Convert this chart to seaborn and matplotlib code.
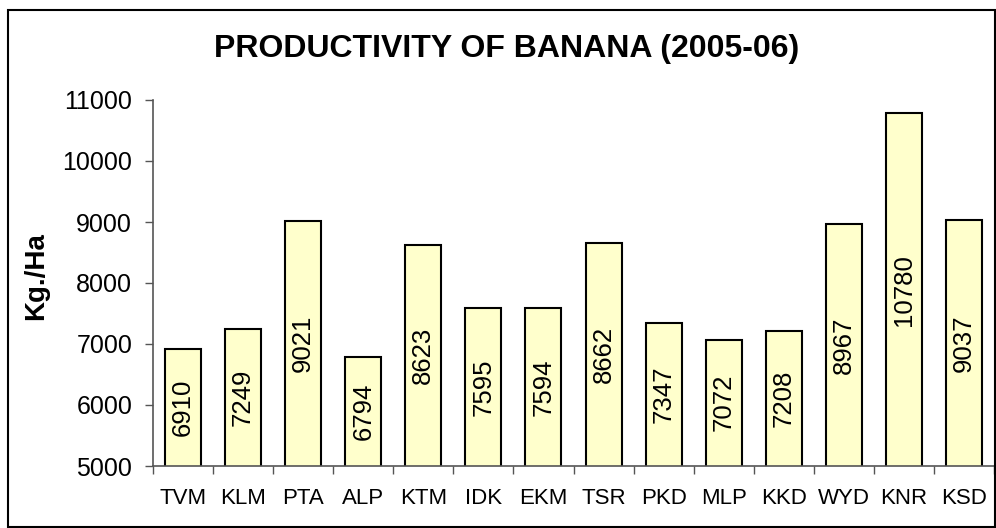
import matplotlib
matplotlib.use("Agg")
import matplotlib.pyplot as plt
import seaborn as sns
import pandas as pd
import numpy as np
from matplotlib.patches import Rectangle

districts = ["TVM", "KLM", "PTA", "ALP", "KTM", "IDK", "EKM", "TSR", "PKD", "MLP", "KKD", "WYD", "KNR", "KSD"]
productivity = [6910, 7249, 9021, 6794, 8623, 7595, 7594, 8662, 7347, 7072, 7208, 8967, 10780, 9037]
y_ticks = [5000, 6000, 7000, 8000, 9000, 10000, 11000]

sns.set_theme(style="white")
plt.rcParams['font.family'] = ['Liberation Sans', 'DejaVu Sans']
plt.rcParams['text.color'] = 'black'
plt.rcParams['axes.labelcolor'] = 'black'
plt.rcParams['xtick.color'] = 'black'
plt.rcParams['ytick.color'] = 'black'

df = pd.DataFrame({"district": districts, "value": productivity})

fig = plt.figure(figsize=(9.96, 5.28), dpi=100)
ax = fig.add_axes([153/996, 1-466/528, (994-153)/996, (466-100)/528])

sns.barplot(data=df, x="district", y="value", ax=ax, color="#FFFFCC",
            edgecolor="black", linewidth=1.5, width=0.6, saturation=1)

ax.set_ylim(5000, 11000)
ax.set_xlim(-0.5, len(districts) - 0.5)
ax.set_yticks(y_ticks)
ax.set_yticklabels([str(v) for v in y_ticks], fontsize=18)
ax.set_xticks(range(len(districts)))
ax.set_xticklabels(districts, fontsize=16)
ax.set_xticks(np.arange(-0.5, len(districts), 1), minor=True)
ax.tick_params(axis='x', which='major', length=0, pad=16)
ax.tick_params(axis='x', which='minor', length=6, width=1, color='#555555', direction='out', bottom=True)
ax.tick_params(axis='y', which='major', length=6, width=1, color='#555555', direction='out', left=True, pad=9)

for s in ["top", "right"]:
    ax.spines[s].set_visible(False)
for s in ["left", "bottom"]:
    ax.spines[s].set_color("#555555")
    ax.spines[s].set_linewidth(1.2)

ax.set_xlabel("")
ax.set_ylabel("")
fig.text(36/996, 1-276/528, "Kg./Ha", rotation=90, ha="center", va="center",
         fontsize=20, fontweight="bold")

for i, v in enumerate(productivity):
    ax.text(i, (5000 + v) / 2, str(v), rotation=90, ha="center", va="center", fontsize=18.5)

fig.text(507/996, 1-49/528, "PRODUCTIVITY OF BANANA (2005-06)", ha="center", va="center",
         fontsize=23, fontweight="bold")

fig.patches.append(Rectangle((8/996, 1/528), 987/996, (518-1)/528, transform=fig.transFigure,
                             fill=False, edgecolor="black", linewidth=1.5))

fig.savefig("out.png", dpi=100)
